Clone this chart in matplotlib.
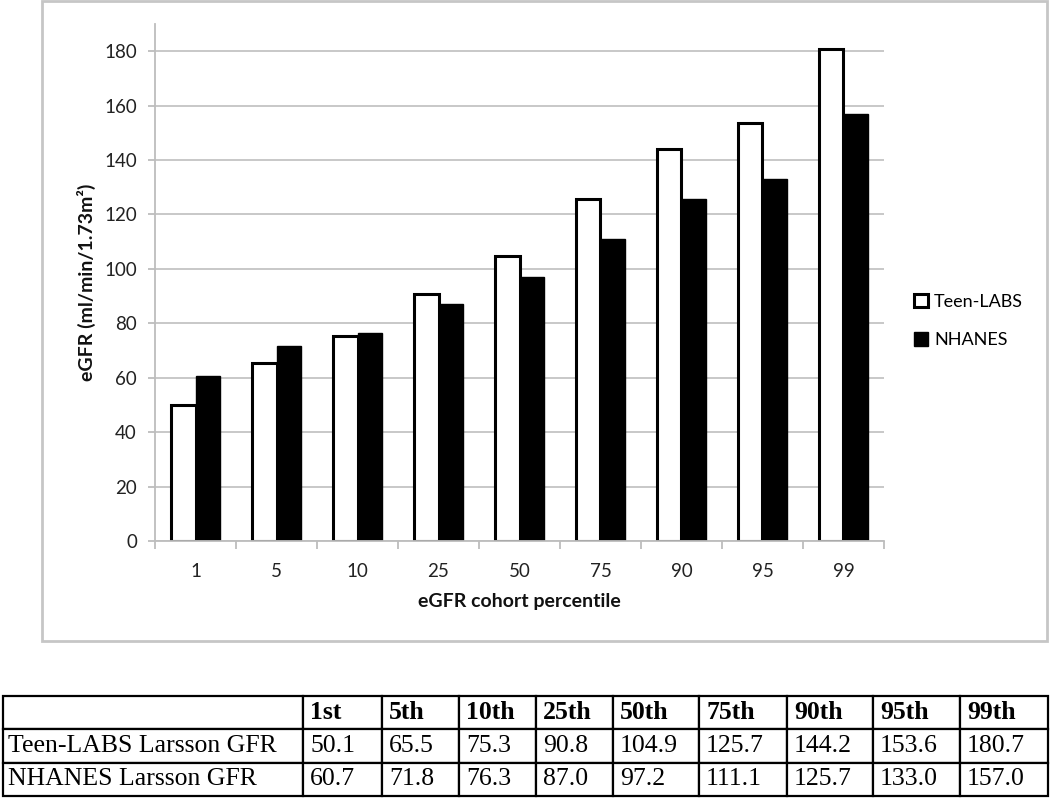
import matplotlib
matplotlib.use("Agg")
import matplotlib.pyplot as plt
from matplotlib.patches import Rectangle, Patch
import numpy as np

# ---- data ----
percentiles = ["1", "5", "10", "25", "50", "75", "90", "95", "99"]
teen_labs = [50.1, 65.5, 75.3, 90.8, 104.9, 125.7, 144.2, 153.6, 180.7]
nhanes = [60.7, 71.8, 76.3, 87.0, 97.2, 111.1, 125.7, 133.0, 157.0]
series_names = ["Teen-LABS", "NHANES"]
table_header = ["", "1st", "5th", "10th", "25th", "50th", "75th", "90th", "95th", "99th"]
row_labels = ["Teen-LABS Larsson GFR", "NHANES Larsson GFR"]
y_ticks = [0, 20, 40, 60, 80, 100, 120, 140, 160, 180]

W, H = 1050, 798
fig = plt.figure(figsize=(W / 100, H / 100), dpi=100)
fig.patch.set_facecolor("white")

def fx(px):
    return px / W

def fy(py):
    return 1 - py / H

# chart border
fig.patches.append(Rectangle((fx(42), fy(641)), fx(1047) - fx(42), fy(1) - fy(641),
                             transform=fig.transFigure, fill=False,
                             edgecolor="#c6c6c6", linewidth=2.0, zorder=0))

sans = "Lato"
gray = "#bdbdbd"

ax = fig.add_axes([fx(155), fy(541), fx(884) - fx(155), fy(24) - fy(541)])
x = np.arange(len(percentiles))
bw = 0.3
ax.bar(x - bw / 2, teen_labs, width=bw, color="white", edgecolor="black",
       linewidth=2.2, zorder=3, label=series_names[0])
ax.bar(x + bw / 2, nhanes, width=bw, color="black", edgecolor="black",
       linewidth=1.0, zorder=3, label=series_names[1])

ax.set_xlim(-0.5, len(percentiles) - 0.5)
ax.set_ylim(0, 190)
ax.set_yticks(y_ticks)
ax.set_yticklabels([str(v) for v in y_ticks], fontsize=13.5, fontfamily=sans, color="#222222")
ax.yaxis.grid(True, color="#c4c4c4", linewidth=1.3, zorder=0)
ax.set_axisbelow(True)

# x ticks at boundaries, labels at centers
ax.set_xticks(np.arange(-0.5, len(percentiles), 1.0))
ax.set_xticklabels([])
ax.set_xticks(x, minor=True)
ax.set_xticklabels(percentiles, minor=True, fontsize=13.5, fontfamily=sans, color="#222222")
ax.tick_params(axis="x", which="major", length=6, color=gray, width=1.3, direction="out")
ax.tick_params(axis="x", which="minor", length=0, pad=16)
ax.tick_params(axis="y", length=5, color=gray, width=1.3, pad=8)

for s in ["top", "right"]:
    ax.spines[s].set_visible(False)
for s in ["left", "bottom"]:
    ax.spines[s].set_color(gray)
    ax.spines[s].set_linewidth(1.3)
ax.spines["bottom"].set_zorder(4)

ax.set_xlabel("eGFR cohort percentile", fontsize=14, fontweight="bold",
              fontfamily=sans, labelpad=9, color="#111111")
ax.set_ylabel("eGFR (ml/min/1.73m²)", fontsize=14, fontweight="bold",
              fontfamily=sans, labelpad=6, color="#111111")

handles = [Patch(facecolor="white", edgecolor="black", linewidth=2.2),
           Patch(facecolor="black", edgecolor="black")]
fig.legend(handles, series_names, loc="center left",
           bbox_to_anchor=(fx(898), fy(321)), frameon=False,
           prop={"family": sans, "size": 13}, handlelength=0.75, handleheight=0.75,
           handletextpad=0.35, labelspacing=1.25)

# ---- table ----
tax = fig.add_axes([fx(3), fy(796), fx(1048) - fx(3), fy(696) - fy(796)])
tax.axis("off")
col_px = [300, 79, 77, 77, 77, 86, 88, 86, 87, 88]
total = sum(col_px)
cell_text = [table_header,
             [row_labels[0]] + [f"{v:.1f}" for v in teen_labs],
             [row_labels[1]] + [f"{v:.1f}" for v in nhanes]]
tbl = tax.table(cellText=cell_text, colWidths=[c / total for c in col_px],
                cellLoc="left", bbox=[0, 0, 1, 1])
tbl.auto_set_font_size(False)
for (r, c), cell in tbl.get_celld().items():
    cell.set_edgecolor("black")
    cell.set_linewidth(1.6)
    cell.PAD = 7 / col_px[c] if c > 0 else 5 / col_px[c]
    t = cell.get_text()
    t.set_fontfamily("Liberation Serif")
    t.set_fontsize(18.5)
    t.set_color("black")
    if r == 0:
        t.set_fontweight("bold")

fig.savefig("out.png", dpi=100, facecolor="white")
